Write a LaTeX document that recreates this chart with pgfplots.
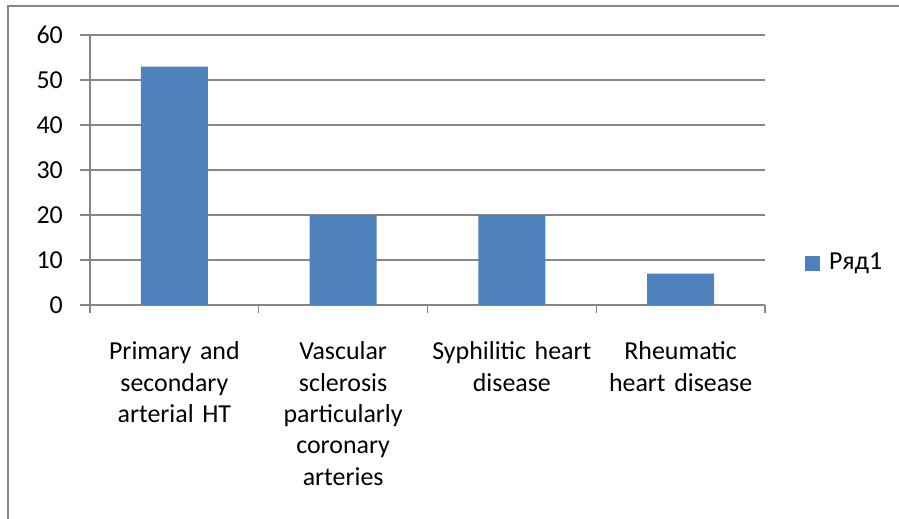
\documentclass[border=0pt]{standalone}
\usepackage{fontspec}
\setmainfont{Carlito}
\usepackage{pgfplots}
\pgfplotsset{compat=1.18}
\definecolor{barblue}{HTML}{4F81BD}
\definecolor{gridgray}{HTML}{868686}
\begin{document}
\fontsize{26}{31.5}\selectfont
\begin{tikzpicture}
\useasboundingbox (0bp,0bp) rectangle (899bp,519bp);
\draw[gridgray, line width=1.5bp] (8bp,0bp) -- (8bp,513bp) -- (899bp,513bp);
\begin{axis}[
  at={(90bp,214bp)}, anchor=south west,
  scale only axis, width=675bp, height=270bp,
  xmin=-0.5, xmax=3.5, ymin=0, ymax=60,
  axis x line=bottom, axis y line=left,
  axis line style={-, gridgray, line width=1.2bp},
  ytick={0,10,20,30,40,50,60},
  yticklabels={0,10,20,30,40,50,60},
  ymajorgrids, grid style={gridgray, line width=1.2bp},
  xtick={0,1,2,3},
  xticklabels={{Primary and\\secondary\\arterial HT},{Vascular\\sclerosis\\particularly\\coronary\\arteries},{Syphilitic heart\\disease},{Rheumatic\\heart disease}},
  minor xtick={-0.5,0.5,1.5,2.5,3.5},
  tick align=outside,
  major tick length=10bp, minor tick length=8bp,
  x tick style={draw=none},
  minor x tick style={draw=gridgray, line width=1.2bp},
  y tick style={gridgray, line width=1.2bp},
  every tick label/.append style={font=\fontsize{26}{31.5}\selectfont, text=black},
  xticklabel style={align=center, text width=175bp, anchor=north, yshift=-18bp},
  yticklabel style={anchor=east, inner sep=0pt, xshift=-17bp},
  legend style={at={(1.0,0.155)}, anchor=west, xshift=40bp, draw=none, fill=none,
    font=\fontsize{26}{31.5}\selectfont, inner sep=0pt,
    /tikz/every odd column/.append style={column sep=7bp}},
  legend image code/.code={\fill[barblue] (0bp,-7.5bp) rectangle (15bp,7.5bp);},
  clip=false,
]
\addplot[ybar, bar width=67bp, fill=barblue, draw=none] coordinates {(0,53) (1,20) (2,20) (3,7)};
\addlegendentry{Ряд1}
\end{axis}
\end{tikzpicture}
\end{document}
